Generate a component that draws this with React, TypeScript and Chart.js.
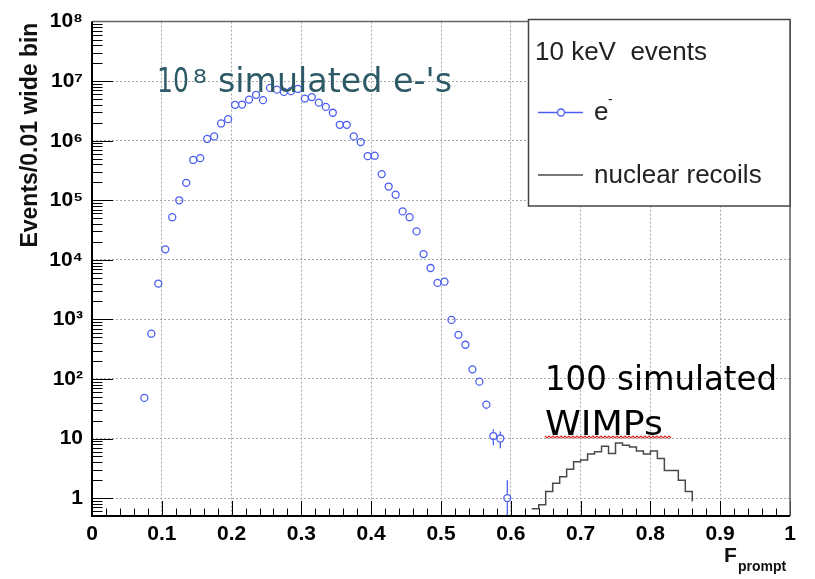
import React, { useEffect, useRef } from 'react';
import { Chart, registerables } from 'chart.js';

Chart.register(...registerables);

// ---- data ----
const eBinCenters = [
  0.075, 0.085, 0.095, 0.105, 0.115, 0.125, 0.135, 0.145, 0.155, 0.165,
  0.175, 0.185, 0.195, 0.205, 0.215, 0.225, 0.235, 0.245, 0.255, 0.265,
  0.275, 0.285, 0.295, 0.305, 0.315, 0.325, 0.335, 0.345, 0.355, 0.365,
  0.375, 0.385, 0.395, 0.405, 0.415, 0.425, 0.435, 0.445, 0.455, 0.465,
  0.475, 0.485, 0.495, 0.505, 0.515, 0.525, 0.535, 0.545, 0.555, 0.565,
  0.575, 0.585, 0.595,
];
const eCounts = [
  48, 575, 4000, 15000, 52000, 100000, 196000, 475000, 510000, 1070000,
  1180000, 1950000, 2300000, 4000000, 4050000, 4900000, 5900000, 4800000, 7700000, 7200000,
  6600000, 6800000, 7400000, 5100000, 5400000, 4350000, 3700000, 2950000, 1850000, 1850000,
  1180000, 950000, 550000, 560000, 275000, 170000, 124000, 65000, 52000, 30000,
  12500, 7300, 4100, 4300, 980, 550, 375, 145, 90, 37,
  11, 10, 1,
];
const nrBinLowEdges = [
  0.61, 0.62, 0.63, 0.64, 0.65, 0.66, 0.67, 0.68, 0.69, 0.70,
  0.71, 0.72, 0.73, 0.74, 0.75, 0.76, 0.77, 0.78, 0.79, 0.80,
  0.81, 0.82, 0.83, 0.84, 0.85, 0.86, 0.87,
];
const nrCounts = [
  0, 0, 0.66, 0.77, 1.29, 1.78, 2.29, 3.04, 4.08, 4.35,
  5.5, 6.0, 7.4, 5.6, 8.4, 7.7, 7.2, 6.2, 5.5, 6.2,
  4.6, 2.9, 2.9, 2.0, 1.29, 0.88, 0,
];
const nrBinWidth = 0.01;
const xTickLabels = ['0', '0.1', '0.2', '0.3', '0.4', '0.5', '0.6', '0.7', '0.8', '0.9', '1'];
const yTickValues = [1, 10, 1e2, 1e3, 1e4, 1e5, 1e6, 1e7, 1e8];
const yTickLabels = ['1', '10', '10²', '10³', '10⁴', '10⁵', '10⁶', '10⁷', '10⁸'];
const yAxisTitle = 'Events/0.01 wide bin';
const xAxisTitleMain = 'F';
const xAxisTitleSub = 'prompt';
const legendTitle = '10 keV  events';
const legendElectron = 'e';
const legendNuclear = 'nuclear recoils';
const noteElectronsA = '10';
const noteElectronsExp = '8';
const noteElectronsB = "simulated e-'s";
const noteWimpsA = '100 simulated';
const noteWimpsB = 'WIMPs';

const BLUE = '#4b5ef2';
const GRAY = '#4a4a4a';
const SANS = '"Liberation Sans", Arial, Helvetica, sans-serif';
const NOTE = '"DejaVu Sans", sans-serif';

function drawFit(ctx: CanvasRenderingContext2D, text: string, x: number, y: number, font: string, w: number, color: string) {
  ctx.save();
  ctx.font = font;
  ctx.fillStyle = color;
  ctx.textAlign = 'left';
  ctx.textBaseline = 'alphabetic';
  const m = ctx.measureText(text).width;
  ctx.translate(x, y);
  ctx.scale(w / m, 1);
  ctx.fillText(text, 0, 0);
  ctx.restore();
}

const decorPlugin = {
  id: 'decor',
  afterDatasetsDraw(chart: any) {
    const ctx: CanvasRenderingContext2D = chart.ctx;
    const ys = chart.scales.y;
    const area = chart.chartArea;
    const meta = chart.getDatasetMeta(0);
    ctx.save();
    ctx.beginPath();
    ctx.rect(area.left, area.top, area.right - area.left, area.bottom - area.top);
    ctx.clip();
    ctx.strokeStyle = BLUE;
    ctx.lineWidth = 1.3;
    const r = 4.2;
    meta.data.forEach((pt: any, i: number) => {
      const v = eCounts[i];
      const s = Math.sqrt(v);
      const yTop = ys.getPixelForValue(v + s);
      const yBot = v - s > 0 ? ys.getPixelForValue(v - s) : area.bottom;
      ctx.beginPath();
      if (pt.y - r > yTop) {
        ctx.moveTo(pt.x, yTop);
        ctx.lineTo(pt.x, pt.y - r);
      }
      if (yBot > pt.y + r) {
        ctx.moveTo(pt.x, pt.y + r);
        ctx.lineTo(pt.x, yBot);
      }
      ctx.stroke();
    });
    ctx.restore();
  },
  afterDraw(chart: any) {
    const ctx: CanvasRenderingContext2D = chart.ctx;
    const xs = chart.scales.x;
    const ys = chart.scales.y;
    const a = chart.chartArea;
    ctx.save();
    // inward ticks, y (log)
    ctx.strokeStyle = '#000';
    ctx.lineWidth = 1;
    ctx.beginPath();
    for (let k = -1; k <= 7; k++) {
      for (let m = 1; m <= 9; m++) {
        const v = m * Math.pow(10, k);
        if (v < ys.min || v > ys.max) continue;
        const py = Math.round(ys.getPixelForValue(v)) + 0.5;
        const len = m === 1 ? 21 : 10.5;
        ctx.moveTo(a.left, py);
        ctx.lineTo(a.left + len, py);
      }
    }
    // inward ticks, x
    for (let i = 0; i <= 50; i++) {
      const px = Math.round(xs.getPixelForValue(i * 0.02)) + 0.5;
      const len = i % 5 === 0 ? 15 : 7.5;
      ctx.moveTo(px, a.bottom);
      ctx.lineTo(px, a.bottom - len);
    }
    ctx.stroke();
    // frame
    ctx.strokeStyle = '#666';
    ctx.lineWidth = 1.5;
    ctx.beginPath();
    ctx.moveTo(a.left, a.top);
    ctx.lineTo(a.right, a.top);
    ctx.lineTo(a.right, a.bottom);
    ctx.stroke();
    ctx.strokeStyle = '#000';
    ctx.lineWidth = 2;
    ctx.beginPath();
    ctx.moveTo(a.left, a.top);
    ctx.lineTo(a.left, a.bottom);
    ctx.lineTo(a.right, a.bottom);
    ctx.stroke();

    // y-axis title
    ctx.save();
    ctx.translate(37, a.top + 1);
    ctx.rotate(-Math.PI / 2);
    ctx.font = `bold 23px ${SANS}`;
    ctx.fillStyle = '#111';
    ctx.textAlign = 'right';
    ctx.textBaseline = 'alphabetic';
    ctx.fillText(yAxisTitle, 0, 0);
    ctx.restore();

    // x-axis title
    ctx.fillStyle = '#111';
    ctx.textAlign = 'left';
    ctx.textBaseline = 'alphabetic';
    ctx.font = `bold 21px ${SANS}`;
    ctx.fillText(xAxisTitleMain, 724, 562);
    ctx.font = `bold 14px ${SANS}`;
    ctx.fillText(xAxisTitleSub, 738, 571);

    // legend
    const lx0 = 528.5, ly0 = 19.5, lx1 = 790, ly1 = 206;
    ctx.fillStyle = '#fff';
    ctx.fillRect(lx0, ly0, lx1 - lx0, ly1 - ly0);
    ctx.strokeStyle = '#444';
    ctx.lineWidth = 1.5;
    ctx.strokeRect(lx0, ly0, lx1 - lx0, ly1 - ly0);
    ctx.fillStyle = '#222';
    ctx.font = `26px ${SANS}`;
    ctx.fillText(legendTitle, 535, 60);
    // electron entry
    ctx.strokeStyle = BLUE;
    ctx.lineWidth = 1.3;
    ctx.beginPath();
    ctx.moveTo(538, 112.5);
    ctx.lineTo(557.5, 112.5);
    ctx.moveTo(564.5, 112.5);
    ctx.lineTo(583, 112.5);
    ctx.stroke();
    ctx.beginPath();
    ctx.arc(561, 112.5, 3.5, 0, Math.PI * 2);
    ctx.stroke();
    ctx.fillStyle = '#222';
    ctx.font = `26px ${SANS}`;
    ctx.fillText(legendElectron, 594, 120);
    ctx.font = `14px ${SANS}`;
    ctx.fillText('-', 608, 104);
    // nuclear entry
    ctx.strokeStyle = GRAY;
    ctx.lineWidth = 1.5;
    ctx.beginPath();
    ctx.moveTo(538, 175);
    ctx.lineTo(583, 175);
    ctx.stroke();
    ctx.font = `26px ${SANS}`;
    ctx.fillText(legendNuclear, 594, 183);

    // annotations
    const teal = '#2d5a66';
    drawFit(ctx, noteElectronsA, 157, 92, `34px ${NOTE}`, 32, teal);
    drawFit(ctx, noteElectronsExp, 193, 83, `19px ${NOTE}`, 14, teal);
    drawFit(ctx, noteElectronsB, 218, 92, `34px ${NOTE}`, 234, teal);
    drawFit(ctx, noteWimpsA, 545, 390, `34px ${NOTE}`, 232, '#000');
    drawFit(ctx, noteWimpsB, 545, 435, `34px ${NOTE}`, 118, '#000');
    // red squiggle under WIMPs
    ctx.strokeStyle = '#e02a2a';
    ctx.lineWidth = 1.2;
    ctx.beginPath();
    let up = true;
    for (let x = 545; x <= 672; x += 2) {
      const y = up ? 436 : 438;
      if (x === 545) ctx.moveTo(x, y); else ctx.lineTo(x, y);
      up = !up;
    }
    ctx.stroke();
    ctx.restore();
  },
};

export default function App() {
  const ref = useRef<HTMLCanvasElement>(null);
  useEffect(() => {
    const electronPoints = eBinCenters.map((x, i) => ({ x, y: eCounts[i] }));
    const nrPoints = nrBinLowEdges.map((x, i) => ({ x, y: nrCounts[i] }));
    nrPoints.push({ x: nrBinLowEdges[nrBinLowEdges.length - 1] + nrBinWidth, y: 0 });
    const tickFont = { family: SANS, size: 21, weight: 'bold' as const };
    const chart = new Chart(ref.current as HTMLCanvasElement, {
      type: 'scatter',
      data: {
        datasets: [
          {
            label: 'e-',
            data: electronPoints,
            showLine: false,
            pointStyle: 'circle',
            pointRadius: 3.5,
            pointBorderWidth: 1.3,
            pointBorderColor: BLUE,
            pointBackgroundColor: 'rgba(0,0,0,0)',
            borderColor: BLUE,
          },
          {
            label: 'nuclear recoils',
            type: 'line',
            data: nrPoints,
            stepped: 'before',
            borderColor: GRAY,
            borderWidth: 1.5,
            pointRadius: 0,
            fill: false,
            tension: 0,
          } as any,
        ],
      },
      options: {
        animation: false,
        responsive: false,
        devicePixelRatio: 1,
        layout: { padding: { top: 19, right: 25, left: 0, bottom: 0 } },
        plugins: {
          legend: { display: false },
          tooltip: { enabled: false },
        },
        scales: {
          x: {
            type: 'linear',
            min: 0,
            max: 1,
            ticks: {
              stepSize: 0.1,
              padding: 6,
              color: '#000',
              font: tickFont,
              maxRotation: 0,
              autoSkip: false,
              callback: (_v: any, i: number) => xTickLabels[i],
            },
            grid: { color: '#a8a8a8', lineWidth: 1, drawTicks: false },
            border: { display: false, dash: [2, 2] },
            afterFit: (s: any) => { s.height = 63; },
          },
          y: {
            type: 'logarithmic',
            min: 0.5,
            max: 1e8,
            afterBuildTicks: (s: any) => { s.ticks = yTickValues.map((value) => ({ value })); },
            ticks: {
              padding: 9,
              color: '#000',
              font: tickFont,
              autoSkip: false,
              callback: (_v: any, i: number) => yTickLabels[i],
            },
            grid: { color: '#a8a8a8', lineWidth: 1, drawTicks: false },
            border: { display: false, dash: [2, 2] },
            afterFit: (s: any) => { s.width = 92; },
          },
        },
      },
      plugins: [decorPlugin],
    });
    return () => chart.destroy();
  }, []);
  return (
    <div style={{ position: 'fixed', left: 0, top: 0, width: 815, height: 579, background: '#fff' }}>
      <canvas ref={ref} width={815} height={579} style={{ display: 'block', width: 815, height: 579 }} />
    </div>
  );
}
